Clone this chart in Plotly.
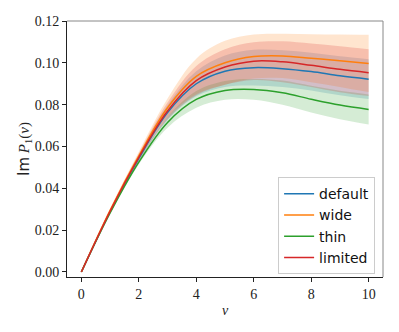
"""
    Im P1(nu) for several prior settings, with uncertainty bands
"""

import plotly.graph_objs as go

nu = [0, 1, 2, 3, 4, 5, 6, 7, 8, 9, 10]

names = ["default", "wide", "thin", "limited"]
colors = ["#1f77b4", "#ff7f0e", "#2ca02c", "#d62728"]
fills = ["rgba(31,119,180,0.2)", "rgba(255,127,14,0.2)",
         "rgba(44,160,44,0.2)", "rgba(214,39,40,0.2)"]

default_mean = [0, 0.0288, 0.0543, 0.0762, 0.0900, 0.0960, 0.0977, 0.0972, 0.0958, 0.0938, 0.0922]
wide_mean = [0, 0.0295, 0.0555, 0.0785, 0.0935, 0.1000, 0.1030, 0.1033, 0.1022, 0.1010, 0.0997]
thin_mean = [0, 0.0282, 0.0525, 0.0715, 0.0825, 0.0868, 0.0873, 0.0857, 0.0826, 0.0798, 0.0777]
limited_mean = [0, 0.0290, 0.0548, 0.0770, 0.0915, 0.0980, 0.1008, 0.1005, 0.0988, 0.0969, 0.0953]

# half widths of the shaded bands
default_err = [0, 0.0006, 0.0015, 0.0035, 0.0060, 0.0075, 0.0085, 0.0088, 0.0090, 0.0093, 0.0095]
wide_err = [0, 0.0008, 0.0020, 0.0045, 0.0085, 0.0105, 0.0105, 0.0106, 0.0115, 0.0125, 0.0137]
thin_err = [0, 0.0005, 0.0010, 0.0025, 0.0040, 0.0045, 0.0050, 0.0058, 0.0064, 0.0068, 0.0072]
limited_err = [0, 0.0007, 0.0018, 0.0040, 0.0070, 0.0085, 0.0090, 0.0098, 0.0104, 0.0110, 0.0112]

means = [default_mean, wide_mean, thin_mean, limited_mean]
errs = [default_err, wide_err, thin_err, limited_err]

data = []
# bands first
for fc, m, e in zip(fills, means, errs):
    lo = [a - b for a, b in zip(m, e)]
    hi = [a + b for a, b in zip(m, e)]
    data.append(go.Scatter(x=nu, y=lo, mode="lines", line={"width": 0, "shape": "spline"},
                           showlegend=False, hoverinfo="skip"))
    data.append(go.Scatter(x=nu, y=hi, mode="lines", line={"width": 0, "shape": "spline"},
                           fill="tonexty", fillcolor=fc, showlegend=False, hoverinfo="skip"))
# then the mean lines
for name, col, m in zip(names, colors, means):
    data.append(go.Scatter(x=nu, y=m, mode="lines", name=name,
                           line={"color": col, "width": 1.5, "shape": "spline"}))

serif = "Liberation Serif"

# the page body has an 8px margin, so the figure is 8px smaller
layout = go.Layout(
    width=391, height=324,
    margin={"l": 59, "r": 16, "t": 13, "b": 55, "autoexpand": False},
    paper_bgcolor="white", plot_bgcolor="white",
    font={"family": serif, "size": 14, "color": "#222"},
    xaxis={"range": [-0.5, 10.5], "tickvals": [0, 2, 4, 6, 8, 10],
           "ticks": "outside", "ticklen": 4, "tickcolor": "#222",
           "showline": True, "linecolor": "#222", "linewidth": 1,
           "showgrid": False, "zeroline": False,
           "title": {"text": "<i>ν</i>", "font": {"family": serif, "size": 14}, "standoff": 4}},
    yaxis={"range": [-0.0024, 0.12], "tickvals": [0, 0.02, 0.04, 0.06, 0.08, 0.10, 0.12],
           "tickformat": ".2f",
           "ticks": "outside", "ticklen": 4, "tickcolor": "#222",
           "showline": True, "linecolor": "#222", "linewidth": 1,
           "showgrid": False, "zeroline": False,
           "title": {"text": "<span style='font-family:DejaVu Sans'>Im</span> <i>P</i><sub>1</sub>(<i>ν</i>)",
                     "font": {"family": serif, "size": 15}, "standoff": 1}},
    legend={"x": 0.975, "y": 0.011, "xanchor": "right", "yanchor": "bottom",
            "traceorder": "normal",
            "bgcolor": "rgba(255,255,255,0.8)", "bordercolor": "#cccccc", "borderwidth": 1,
            "font": {"family": "DejaVu Sans", "size": 14, "color": "#111"},
            "tracegroupgap": 0},
    shapes=[
        {"type": "line", "xref": "paper", "yref": "paper", "x0": 0, "x1": 1, "y0": 1, "y1": 1,
         "line": {"color": "#888888", "width": 1}},
        {"type": "line", "xref": "paper", "yref": "paper", "x0": 1, "x1": 1, "y0": 0, "y1": 1,
         "line": {"color": "#888888", "width": 1}},
    ],
)

fig = go.Figure(data=data, layout=layout)
fig.write_html("out.html")
